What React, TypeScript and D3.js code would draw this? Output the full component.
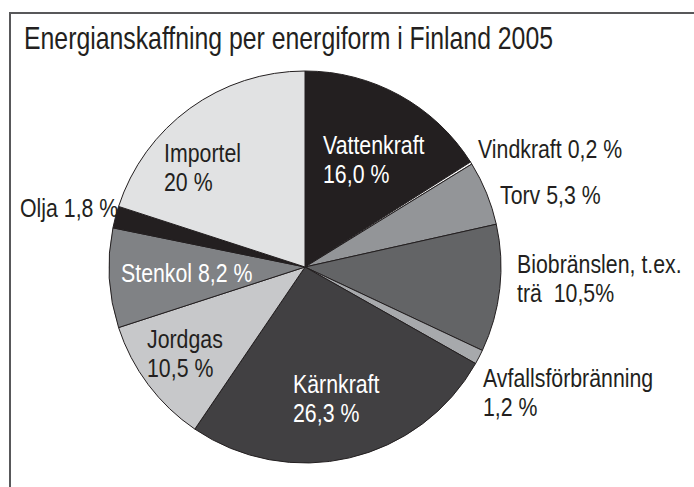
import React from "react";
import * as d3 from "d3";

const title = "Energianskaffning per energiform i Finland 2005";
const categories = [
  "Vattenkraft",
  "Vindkraft",
  "Torv",
  "Biobränslen",
  "Avfallsförbränning",
  "Kärnkraft",
  "Jordgas",
  "Stenkol",
  "Olja",
  "Importel",
];
const values = [16.0, 0.2, 5.3, 10.5, 1.2, 26.3, 10.5, 8.2, 1.8, 20];
const labelLines: string[][] = [
  ["Vattenkraft", "16,0 %"],
  ["Vindkraft 0,2 %"],
  ["Torv 5,3 %"],
  ["Biobränslen, t.ex.", "trä  10,5%"],
  ["Avfallsförbränning", "1,2 %"],
  ["Kärnkraft", "26,3 %"],
  ["Jordgas", "10,5 %"],
  ["Stenkol 8,2 %"],
  ["Olja 1,8 %"],
  ["Importel", "20 %"],
];

const fills = [
  "#231f20",
  "#f4f4f4",
  "#939598",
  "#636466",
  "#a7a9ac",
  "#414042",
  "#c7c8ca",
  "#808285",
  "#231f20",
  "#e1e2e3",
];
const labelColors = [
  "#ffffff",
  "#231f20",
  "#231f20",
  "#231f20",
  "#231f20",
  "#ffffff",
  "#231f20",
  "#ffffff",
  "#231f20",
  "#231f20",
];
// label anchor positions (x, first baseline)
const labelPos: [number, number][] = [
  [323, 154],
  [478, 158],
  [500, 204],
  [517, 273],
  [483, 387],
  [293, 393],
  [147, 348],
  [121, 282],
  [20, 217],
  [164, 162],
];

const W = 694;
const H = 487;
const cx = 305;
const cy = 267;
const R = 196;
const FONT = "'Liberation Sans', Arial, sans-serif";
const SX = 0.82;

export default function App() {
  const data = categories.map((c, i) => ({ name: c, value: values[i], i }));
  const pie = d3
    .pie<{ name: string; value: number; i: number }>()
    .sort(null)
    .value((d) => d.value)
    .startAngle(0)
    .endAngle(2 * Math.PI);
  const arcs = pie(data);
  const arc = d3
    .arc<d3.PieArcDatum<{ name: string; value: number; i: number }>>()
    .innerRadius(0)
    .outerRadius(R);

  return (
    <svg
      width={W}
      height={H}
      style={{ position: "absolute", left: 0, top: 0, background: "#fff" }}
      fontFamily={FONT}
    >
      <rect x={0} y={0} width={W} height={H} fill="#fff" />
      <rect
        x={10}
        y={13}
        width={W + 20}
        height={H + 20}
        fill="none"
        stroke="#58585a"
        strokeWidth={2}
      />
      <text
        x={24}
        y={49}
        fontSize={30.5}
        fill="#231f20"
        textLength={529}
        lengthAdjust="spacingAndGlyphs"
      >
        {title}
      </text>
      <g transform={`translate(${cx},${cy})`}>
        {arcs.map((a, k) => (
          <path
            key={k}
            d={arc(a) || ""}
            fill={fills[k]}
            stroke="#231f20"
            strokeWidth={1}
            strokeLinejoin="round"
          />
        ))}
      </g>
      {labelLines.map((lines, k) => (
        <g key={k} transform={`translate(${labelPos[k][0]},${labelPos[k][1]}) scale(${SX},1)`}>
          {lines.map((l, j) => (
            <text
              key={j}
              x={0}
              y={j * 29.5}
              fontSize={26}
              fill={labelColors[k]}
              style={{ whiteSpace: "pre" }}
            >
              {l}
            </text>
          ))}
        </g>
      ))}
    </svg>
  );
}
